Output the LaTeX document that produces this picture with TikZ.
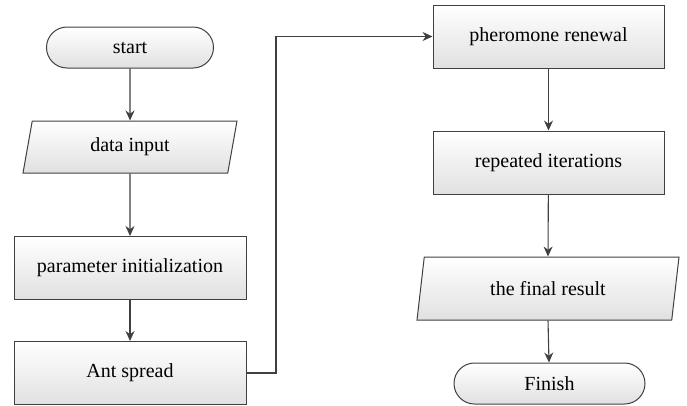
\documentclass[tikz,border=0pt]{standalone}
\usepackage{fontspec}
\setmainfont{Liberation Serif}
\usetikzlibrary{shapes.geometric,arrows.meta}

\begin{document}
\begin{tikzpicture}[x=1pt,y=-1pt,
proc/.style={draw=black!75,line width=1pt,top color=white,bottom color=black!12,minimum width=232pt,minimum height=63pt,inner sep=0pt,font=\fontsize{20}{24}\selectfont},
io/.style={proc,trapezium,trapezium left angle=63,trapezium right angle=117,trapezium stretches body=true},
term/.style={proc,rounded corners=20.5pt,minimum height=41pt},
arr/.style={draw=black!75,line width=1.1pt,-{Stealth[length=10pt,width=9pt]}}
]
\useasboundingbox (0,0) rectangle (687,405);
\node[term,minimum width=167pt] (start) at (130,47.5) {start};
\node[io,minimum width=214pt,minimum height=52pt] (input) at (130,147) {data input};
\node[proc] (init) at (130,268) {parameter initialization};
\node[proc] (ant) at (130,373) {Ant spread};
\node[proc,minimum width=231pt] (renew) at (548.5,36.5) {pheromone renewal};
\node[proc,minimum width=231pt] (iter) at (548.5,162.5) {repeated iterations};
\node[io,minimum width=262pt] (result) at (548,288.5) {the final result};
\node[term,minimum width=191pt] (finish) at (549.5,383.5) {Finish};
\coordinate (bend) at (276,200);
% left column
\draw[arr] (start) -- (input);
\draw[arr] (input.south) -- (init);
\draw[arr] (init) -- (ant);
% jump to right column
\draw[arr] (ant.east) -- (ant.east -| bend) |- (renew.west);
\draw[arr] (renew) -- (iter);
\draw[arr] (iter) -- (result.north);
\draw[arr] (result.south) -- (finish);
\end{tikzpicture}
\end{document}
